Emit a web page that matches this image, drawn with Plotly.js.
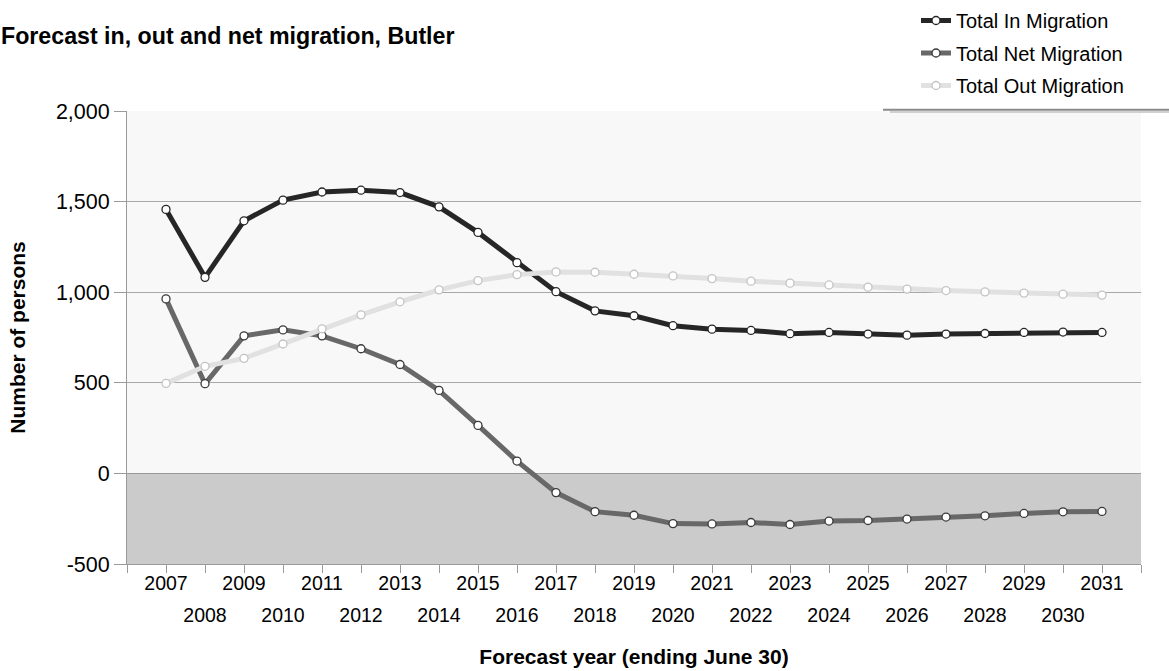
<!DOCTYPE html>
<html>
<head>
<meta charset="utf-8">
<script src="https://cdn.plot.ly/plotly-3.0.1.min.js"></script>
<style>html,body{margin:0;padding:0;background:#fff}#chart{width:1169px;height:671px}</style>
</head>
<body>
<div id="chart"></div>
<script>
const years = [2007,2008,2009,2010,2011,2012,2013,2014,2015,2016,2017,2018,2019,2020,2021,2022,2023,2024,2025,2026,2027,2028,2029,2030,2031];
const yearLabels = ['2007','2008','2009','2010','2011','2012','2013','2014','2015','2016','2017','2018','2019','2020','2021','2022','2023','2024','2025','2026','2027','2028','2029','2030','2031'];
const totalIn  = [1457,1082,1394,1508,1553,1563,1550,1471,1330,1163,1003,897,870,815,796,789,771,778,769,763,769,772,778,780,778];
const totalNet = [963,495,759,792,759,688,601,458,265,68,-106,-211,-231,-277,-279,-271,-282,-263,-260,-252,-241,-234,-221,-212,-210];
const totalOut = [497,591,635,714,798,875,947,1013,1064,1097,1112,1110,1099,1090,1075,1061,1050,1040,1028,1017,1009,1002,995,989,984];
const yTickVals = [-500,0,500,1000,1500,2000];
const yTickText = ['-500','0','500','1,000','1,500','2,000'];

const FONT = 'Liberation Sans, Arial, sans-serif';

function series(name, y, color, mline, group) {
  return {
    type: 'scatter', mode: 'lines+markers', name: name, x: years, y: y,
    legendgroup: group,
    line: {color: color, width: 5},
    marker: {symbol: 'circle', size: 8, color: '#ffffff', line: {color: mline, width: 1.3}},
    hoverinfo: 'x+y+name'
  };
}

const oddVals = [], oddText = [], evenVals = [], evenText = [];
years.forEach((yr, i) => {
  if (i % 2 === 0) { oddVals.push(yr); oddText.push(yearLabels[i]); }
  else { evenVals.push(yr); evenText.push(yearLabels[i]); }
});
const tickAll = [years[0] - 1].concat(years, [years[years.length - 1] + 1]);
const tickAllText = tickAll.map(v => { const i = years.indexOf(v); return (i >= 0 && i % 2 === 0) ? yearLabels[i] : ''; });

const data = [
  series('Total In Migration', totalIn, '#262626', '#262626', 'a'),
  series('Total Net Migration', totalNet, '#686868', '#3a3a3a', 'b'),
  series('Total Out Migration', totalOut, '#e1e1e1', '#c4c4c4', 'c'),
  {type: 'scatter', mode: 'markers', x: evenVals, y: evenVals.map(() => null), xaxis: 'x2', yaxis: 'y', showlegend: false, hoverinfo: 'skip'}
];

const layout = {
  width: 1169, height: 671,
  margin: {l: 127, r: 28, t: 111, b: 107, autoexpand: false},
  paper_bgcolor: '#ffffff',
  plot_bgcolor: '#f8f8f8',
  font: {family: FONT, color: '#000000', size: 20},
  title: {
    text: 'Forecast in, out and net migration, Butler',
    font: {family: FONT, size: 23.2, weight: 'bold', color: '#000'},
    xref: 'container', x: 1 / 1169, xanchor: 'left',
    yref: 'container', y: 1 - 36 / 671, yanchor: 'middle',
    automargin: false
  },
  xaxis: {
    range: [years[0] - 1, years[years.length - 1] + 1],
    tickmode: 'array', tickvals: tickAll, ticktext: tickAllText,
    ticks: 'outside', ticklen: 8, tickcolor: '#9a9a9a', tickwidth: 1,
    ticklabelstandoff: -6,
    tickfont: {family: FONT, size: 19.5, color: '#000'},
    showline: true, linecolor: '#9a9a9a', linewidth: 1,
    showgrid: false, zeroline: false, fixedrange: true, automargin: false
  },
  xaxis2: {
    overlaying: 'x', anchor: 'y', side: 'bottom',
    range: [years[0] - 1, years[years.length - 1] + 1],
    tickmode: 'array', tickvals: evenVals, ticktext: evenText,
    ticks: '', ticklabelstandoff: 37,
    tickfont: {family: FONT, size: 19.5, color: '#000'},
    showline: false, showgrid: false, zeroline: false, automargin: false,
    title: {text: 'Forecast year (ending June 30)', font: {family: FONT, size: 21, weight: 'bold', color: '#000'}, standoff: 24}
  },
  yaxis: {
    range: [-500, 2000],
    tickmode: 'array', tickvals: yTickVals, ticktext: yTickText,
    ticks: 'outside', ticklen: 12, tickcolor: '#9a9a9a', tickwidth: 1,
    tickfont: {family: FONT, size: 21.5, color: '#000'},
    showline: true, linecolor: '#9a9a9a', linewidth: 1,
    showgrid: true, gridcolor: '#a8a8a8', gridwidth: 1,
    zeroline: true, zerolinecolor: '#999999', zerolinewidth: 1.5,
    title: {text: 'Number of persons', font: {family: FONT, size: 21, weight: 'bold', color: '#000'}, standoff: 24},
    fixedrange: true, automargin: false
  },
  shapes: [
    {type: 'rect', xref: 'paper', yref: 'y', x0: 0, x1: 1, y0: -500, y1: 0, fillcolor: '#cbcbcb', line: {width: 0}, layer: 'below'},
    {type: 'line', xref: 'paper', yref: 'paper', x0: (883 - 127) / 1014, x1: (1169 - 127) / 1014, y0: 1.003, y1: 1.003, line: {color: '#8a8a8a', width: 2}},
    {type: 'line', xref: 'paper', yref: 'paper', x0: (890 - 127) / 1014, x1: (1169 - 127) / 1014, y0: 0.998, y1: 0.998, line: {color: '#d0d0d0', width: 2}}
  ],
  legend: {
    x: 916 / 1169, xanchor: 'left', xref: 'container',
    y: 1 - 1 / 671, yanchor: 'top', yref: 'container',
    bgcolor: 'rgba(255,255,255,0)', borderwidth: 0,
    font: {family: FONT, size: 20, color: '#000'},
    tracegroupgap: 3.5, traceorder: 'grouped'
  },
  showlegend: true
};

Plotly.newPlot('chart', data, layout, {displayModeBar: false, staticPlot: true});
</script>
</body>
</html>
